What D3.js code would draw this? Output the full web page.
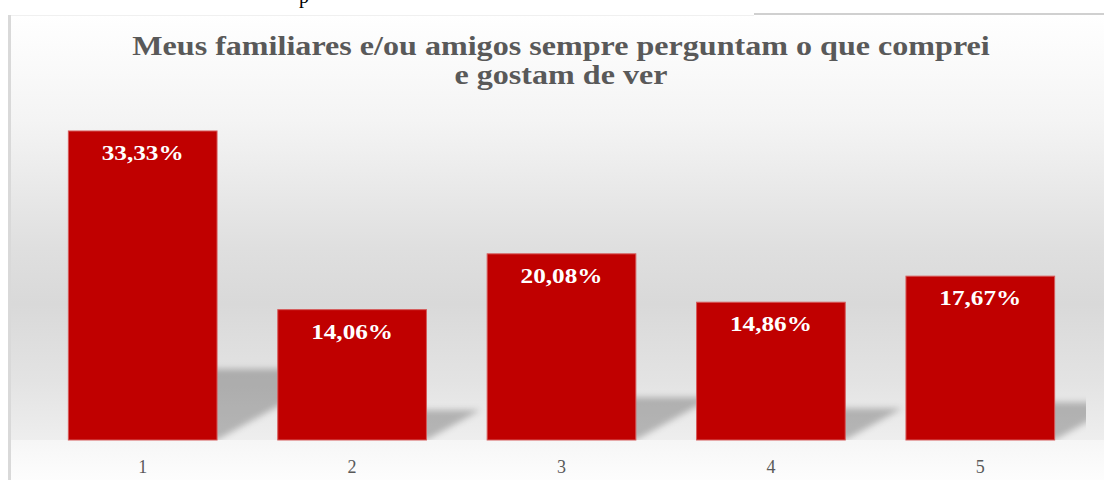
<!DOCTYPE html>
<html>
<head>
<meta charset="utf-8">
<script src="https://d3js.org/d3.v7.min.js"></script>
<style>
  html, body { margin: 0; padding: 0; background: #fff; }
  svg { display: block; }
</style>
</head>
<body>
<div id="chart"></div>
<script>
// Data ----------------------------------------------------------------------->
const categories = ['1', '2', '3', '4', '5'];
const values = [33.33, 14.06, 20.08, 14.86, 17.67];
const value_labels = ['33,33%', '14,06%', '20,08%', '14,86%', '17,67%'];
const title_lines = [
  'Meus familiares e/ou amigos sempre perguntam o que comprei',
  'e gostam de ver'
];

// Setup ---------------------------------------------------------------------->
const width = 1104, height = 480;
const base_y = 440;
const serif = "'Liberation Serif', 'Times New Roman', serif";

const svg = d3.select('#chart')
  .append('svg')
    .attr('width', width)
    .attr('height', height);

const defs = svg.append('defs');

// wall gradient (white at top, grey in the middle, lighter at the floor)
const wall = defs.append('linearGradient')
    .attr('id', 'wall')
    .attr('x1', 0).attr('y1', 0).attr('x2', 0).attr('y2', 1);
[[0, '#ffffff'], [0.25, '#f4f4f4'], [0.55, '#dfdfdf'], [0.68, '#d9d9d9'],
 [0.86, '#e3e3e3'], [1, '#eeeeee']].forEach(s =>
  wall.append('stop').attr('offset', s[0]).attr('stop-color', s[1]));

const floor = defs.append('linearGradient')
    .attr('id', 'floor')
    .attr('x1', 0).attr('y1', 0).attr('x2', 0).attr('y2', 1);
floor.append('stop').attr('offset', 0).attr('stop-color', '#f6f6f6');
floor.append('stop').attr('offset', 1).attr('stop-color', '#fdfdfd');

defs.append('filter')
    .attr('id', 'blur')
    .attr('x', '-20%').attr('y', '-20%').attr('width', '140%').attr('height', '140%')
  .append('feGaussianBlur')
    .attr('stdDeviation', 3);

defs.append('clipPath')
    .attr('id', 'plot-clip')
  .append('rect')
    .attr('x', 11).attr('y', 15).attr('width', 1075).attr('height', base_y - 15);

// Page remnants above the chart ---------------------------------------------->
svg.append('text')
    .attr('x', 299).attr('y', 3)
    .style('font', `20px ${serif}`)
    .style('fill', '#000')
    .text('p');

svg.append('line')
    .attr('x1', 754).attr('x2', width)
    .attr('y1', 14).attr('y2', 14)
    .attr('stroke', '#d0d0d0')
    .attr('stroke-width', 2);

// Chart background ----------------------------------------------------------->
svg.append('rect')
    .attr('x', 11).attr('y', 15)
    .attr('width', width - 11).attr('height', base_y - 15)
    .attr('fill', 'url(#wall)');
svg.append('rect')
    .attr('x', 11).attr('y', base_y)
    .attr('width', width - 11).attr('height', height - base_y)
    .attr('fill', 'url(#floor)');
svg.append('line')
    .attr('x1', 11).attr('x2', 754)
    .attr('y1', 15.5).attr('y2', 15.5)
    .attr('stroke', '#f0f0f0');
svg.append('line')
    .attr('x1', 9.5).attr('x2', 9.5)
    .attr('y1', 15).attr('y2', height)
    .attr('stroke', '#d9d9d9')
    .attr('stroke-width', 3);

// Scales --------------------------------------------------------------------->
const x = d3.scaleBand()
    .domain(categories)
    .range([38, 1085])
    .paddingInner(0.29)
    .paddingOuter(0.145);

const y = d3.scaleLinear()
    .domain([0, 35])
    .range([base_y, 115.5]);

const data = categories.map((c, i) => ({cat: c, value: values[i], label: value_labels[i]}));

// Shadows (skewed, blurred, behind the bars) --------------------------------->
svg.append('g')
    .attr('clip-path', 'url(#plot-clip)')
  .append('g')
    .attr('filter', 'url(#blur)')
  .selectAll('path')
  .data(data)
  .join('path')
    .attr('fill', '#000')
    .attr('fill-opacity', 0.24)
    .attr('d', d => {
      const x0 = x(d.cat), x1 = x0 + x.bandwidth();
      const sh = 0.23 * (base_y - y(d.value));
      const dx = 1.8 * sh;
      return `M${x0},${base_y}L${x1},${base_y}L${x1 + dx},${base_y - sh}L${x0 + dx},${base_y - sh}Z`;
    });

// Bars ----------------------------------------------------------------------->
svg.append('g')
  .selectAll('rect')
  .data(data)
  .join('rect')
    .attr('x', d => x(d.cat))
    .attr('y', d => y(d.value))
    .attr('width', x.bandwidth())
    .attr('height', d => base_y - y(d.value))
    .attr('fill', '#c00000')
    .attr('stroke', '#d65a5a')
    .attr('stroke-width', 1);

// Value labels (white, bold, slightly stretched like the original) ---------->
svg.append('g')
  .selectAll('text')
  .data(data)
  .join('text')
    .attr('transform', d =>
      `translate(${x(d.cat) + x.bandwidth() / 2},${y(d.value) + 29}) scale(1.2,1)`)
    .attr('text-anchor', 'middle')
    .style('font', `bold 21px ${serif}`)
    .style('fill', '#fff')
    .text(d => d.label);

// Category axis -------------------------------------------------------------->
const x_axis = svg.append('g')
    .attr('transform', `translate(0,${base_y})`)
    .call(d3.axisBottom(x).tickSize(0).tickPadding(20));
x_axis.select('.domain').remove();
x_axis.selectAll('text')
    .style('font', `18px ${serif}`)
    .style('fill', '#595959');

// Title ---------------------------------------------------------------------->
const title = svg.append('g')
    .attr('transform', 'translate(561,0)');
const title_text = title.selectAll('text')
  .data(title_lines)
  .join('text')
    .attr('text-anchor', 'middle')
    .attr('y', (d, i) => 55 + i * 29)
    .style('font', `bold 28px ${serif}`)
    .style('fill', '#595959')
    .text(d => d);
// stretch horizontally so the first line spans the same width as the original
const natural_w = title_text.node().getComputedTextLength();
title_text.attr('transform', `scale(${858 / natural_w},1)`);
</script>
</body>
</html>
